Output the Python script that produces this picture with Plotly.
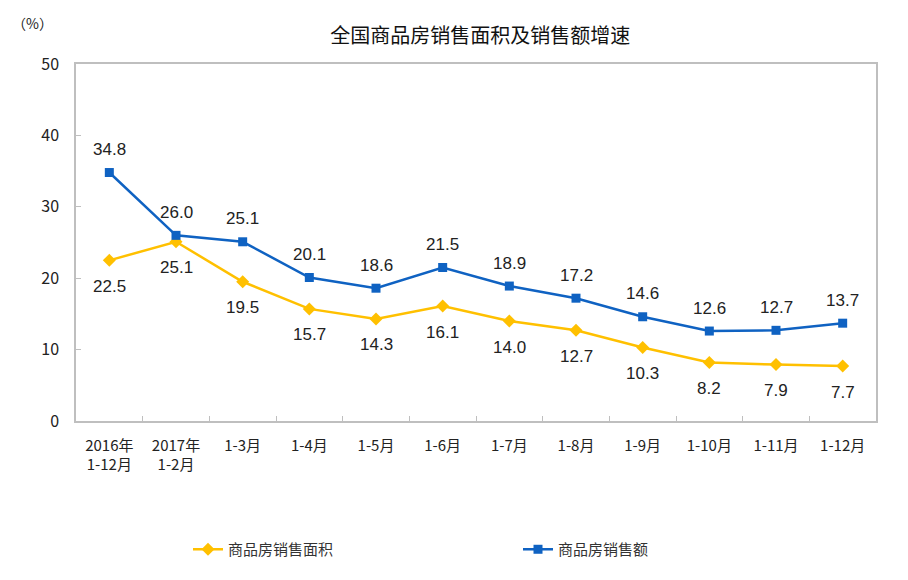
import plotly.graph_objects as go

# Categories and series
months = ["2016年<br>1-12月", "2017年<br>1-2月", "1-3月", "1-4月", "1-5月", "1-6月",
          "1-7月", "1-8月", "1-9月", "1-10月", "1-11月", "1-12月"]
area_growth = [22.5, 25.1, 19.5, 15.7, 14.3, 16.1, 14.0, 12.7, 10.3, 8.2, 7.9, 7.7]
sales_growth = [34.8, 26.0, 25.1, 20.1, 18.6, 21.5, 18.9, 17.2, 14.6, 12.6, 12.7, 13.7]

YELLOW = "#FFC000"
BLUE = "#0F62C2"
CJK = "Noto Sans CJK SC"
NUM = "Liberation Sans, Arial"

fig = go.Figure()
fig.add_trace(go.Scatter(
    x=months, y=area_growth, name="商品房销售面积",
    mode="lines+markers",
    line=dict(color=YELLOW, width=2.5),
    marker=dict(symbol="diamond", size=10, color=YELLOW),
))
fig.add_trace(go.Scatter(
    x=months, y=sales_growth, name="商品房销售额",
    mode="lines+markers",
    line=dict(color=BLUE, width=2.5),
    marker=dict(symbol="square", size=9, color=BLUE),
))

# value labels: area below its points, sales above
labels = []
for m, v in zip(months, area_growth):
    labels.append(dict(x=m, y=v, text=f"{v:.1f}", yshift=-26, showarrow=False,
                       font=dict(family=NUM, size=17, color="#222")))
for m, v in zip(months, sales_growth):
    labels.append(dict(x=m, y=v, text=f"{v:.1f}", yshift=23, showarrow=False,
                       font=dict(family=NUM, size=17, color="#222")))
labels.append(dict(text="（%）", x=-0.082, y=1.115, xref="paper", yref="paper",
                   xanchor="left", yanchor="middle", showarrow=False,
                   font=dict(size=14, family=CJK)))

# page body has an 8px margin, so the margins are shifted to compensate
fig.update_layout(
    width=908, height=580,
    margin=dict(l=68, r=40, t=56, b=167),
    paper_bgcolor="white", plot_bgcolor="white",
    font=dict(family=CJK, color="#222"),
    title=dict(text="全国商品房销售面积及销售额增速", x=0.52, xanchor="center",
               y=0.952, yanchor="middle", font=dict(size=20, family=CJK, color="#111")),
    showlegend=True,
    legend=dict(orientation="h", x=0.14, y=-0.36, xanchor="left", yanchor="middle",
                entrywidth=285, font=dict(size=15, family=CJK, color="#333")),
    annotations=labels,
)

fig.update_xaxes(
    range=[-0.5, len(months) - 0.5],
    showgrid=False, showline=True, linecolor="#BFBFBF", linewidth=1.5, mirror=True,
    ticks="inside", ticklen=5, tickcolor="#BFBFBF", tickson="boundaries",
    ticklabelstandoff=10,
    tickfont=dict(size=15, family=CJK, color="#222"),
)
fig.update_yaxes(
    range=[0, 50], dtick=10, showgrid=False, zeroline=False,
    showline=True, linecolor="#BFBFBF", linewidth=1.5, mirror=True,
    ticks="inside", ticklen=5, tickcolor="#BFBFBF", ticklabelstandoff=12,
    tickfont=dict(size=16, family=CJK, color="#222"),
)

fig.write_html("out.html")
